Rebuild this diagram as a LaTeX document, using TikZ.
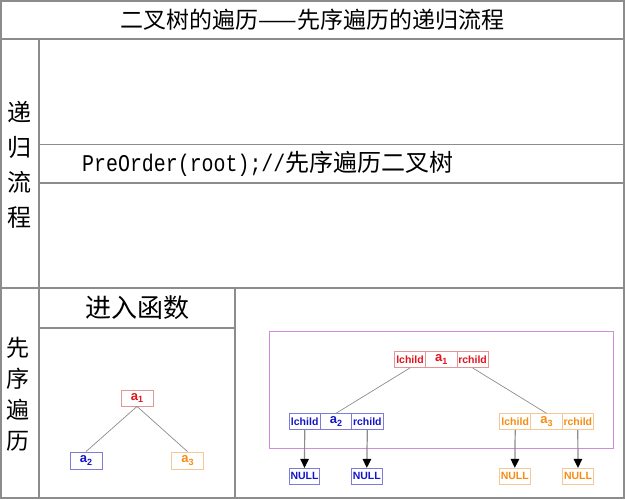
\documentclass[tikz,border=0pt]{standalone}
\usepackage{fontspec}
\setmainfont{Liberation Sans}
\newfontfamily\cjk{Noto Sans CJK SC}
\newfontfamily\codemono[FakeStretch=0.83]{Liberation Mono}
\usetikzlibrary{arrows.meta}
\definecolor{tline}{RGB}{140,140,140}
\definecolor{redtxt}{RGB}{225,20,30}
\definecolor{redbrd}{RGB}{228,150,150}
\definecolor{bluetxt}{RGB}{20,20,200}
\definecolor{bluebrd}{RGB}{125,125,215}
\definecolor{orgtxt}{RGB}{245,140,20}
\definecolor{orgbrd}{RGB}{245,200,150}
\definecolor{purpleframe}{RGB}{210,140,220}
\definecolor{edgegray}{RGB}{140,140,140}
\tikzset{
  tbl/.style={draw=tline, line width=1.2pt},
  cell/.style={draw, line width=0.8pt, minimum height=16pt, minimum width=31.3pt, inner sep=0pt,
    font=\bfseries\fontsize{10.5}{10.5}\selectfont},
  valcell/.style={cell, font=\bfseries\fontsize{13}{13}\selectfont},
  nullbox/.style={cell, minimum width=30.5pt, font=\bfseries\fontsize{10.5}{10.5}\selectfont},
  rednode/.style={draw=redbrd, text=redtxt},
  bluenode/.style={draw=bluebrd, text=bluetxt},
  orgnode/.style={draw=orgbrd, text=orgtxt},
  treeedge/.style={draw=edgegray, line width=0.7pt},
  nullarrow/.style={draw=edgegray, line width=1.2pt, -{Triangle[width=8.5pt,length=9pt,color=black]}},
}
\newcommand{\subidx}[1]{{\fontsize{9}{9}\selectfont\raisebox{-2.5pt}{#1}}}
\begin{document}
\begin{tikzpicture}[x=1pt,y=-1pt]
\useasboundingbox (0,0) rectangle (625,500);
% table
\draw[tbl] (1,1) rectangle (624,498);
\draw[tbl] (1,39) -- (624,39);
\draw[tbl] (39,39) -- (39,498);
\draw[tbl] (39,144.5) -- (624,144.5);
\draw[tbl] (39,183) -- (624,183);
\draw[tbl] (1,288) -- (624,288);
\draw[tbl] (235,288) -- (235,498);
\draw[tbl] (39,328) -- (235,328);
% texts
\node (title) at (312.5,20) {\cjk\fontsize{23}{23}\selectfont 二叉树的遍历——先序遍历的递归流程};
\node[align=center, inner sep=0pt, font=\cjk\fontsize{24}{35}\selectfont] (side1) at (19,165) {递\\归\\流\\程};
\node[align=center, inner sep=0pt, font=\cjk\fontsize{23}{31}\selectfont] (side2) at (18,394) {先\\序\\遍\\历};
\node[anchor=west, inner sep=0pt] (code) at (82,164) {{\codemono\fontsize{24}{24}\selectfont PreOrder(root);//}{\cjk\fontsize{24}{24}\selectfont 先序遍历二叉树}};
\node (enter) at (137,308) {\cjk\fontsize{26}{26}\selectfont 进入函数};
% small tree
\node[valcell, rednode, minimum width=32pt] (sa1) at (137,398) {a\subidx{1}};
\node[valcell, bluenode, minimum width=32pt, minimum height=17pt] (sa2) at (86,460.5) {a\subidx{2}};
\node[valcell, orgnode, minimum width=32pt, minimum height=17pt] (sa3) at (187.5,460.5) {a\subidx{3}};
\draw[treeedge] (sa1.south) -- (sa2.north);
\draw[treeedge] (sa1.south) -- (sa3.north);
% frame
\draw[draw=purpleframe, line width=1.5pt] (269.5,331.5) rectangle (613.5,448.5);
% big tree top
\node[cell, rednode] (t1) at (410,359.5) {lchild};
\node[valcell, rednode] (t2) at (441.3,359.5) {a\subidx{1}};
\node[cell, rednode] (t3) at (472.6,359.5) {rchild};
% left
\node[cell, bluenode] (l1) at (304.7,421.7) {lchild};
\node[valcell, bluenode] (l2) at (336,421.7) {a\subidx{2}};
\node[cell, bluenode] (l3) at (367.3,421.7) {rchild};
% right
\node[cell, orgnode] (r1) at (515.2,421.7) {lchild};
\node[valcell, orgnode] (r2) at (546.5,421.7) {a\subidx{3}};
\node[cell, orgnode] (r3) at (577.8,421.7) {rchild};
% nulls
\node[nullbox, bluenode] (n1) at (304.5,476.3) {NULL};
\node[nullbox, bluenode] (n2) at (366.8,476.3) {NULL};
\node[nullbox, orgnode] (n3) at (514.8,476.3) {NULL};
\node[nullbox, orgnode] (n4) at (578,476.3) {NULL};
% edges
\draw[treeedge] (t1.south) -- (l2.north);
\draw[treeedge] (t3.south) -- (r2.north);
\draw[nullarrow] (l1.south) -- (n1.north);
\draw[nullarrow] (l3.south) -- (n2.north);
\draw[nullarrow] (r1.south) -- (n3.north);
\draw[nullarrow] (r3.south) -- (n4.north);
\end{tikzpicture}
\end{document}
